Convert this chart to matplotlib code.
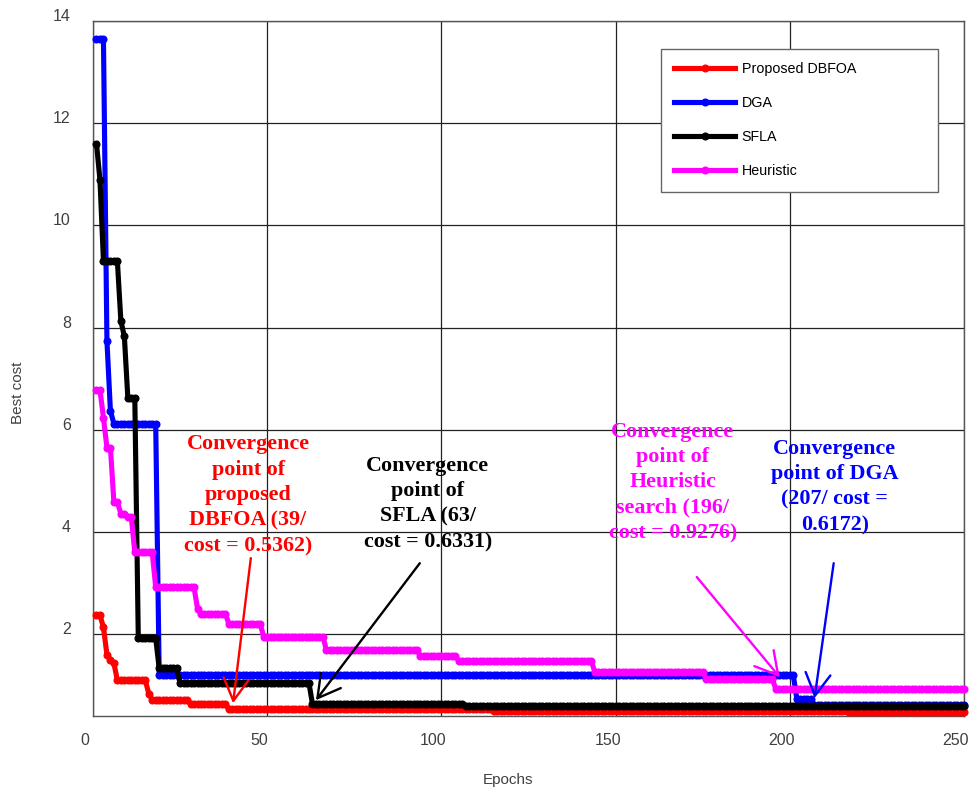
import numpy as np
import matplotlib
matplotlib.use("Agg")
import matplotlib.pyplot as plt
from matplotlib.lines import Line2D
from matplotlib.transforms import ScaledTranslation

# best cost per epoch, kept as step levels: epoch where a level starts + its value
n_epochs = 250

dbfoa_start = [1, 3, 4, 5, 6, 7, 16, 17, 28, 39, 115, 217]
dbfoa_cost = [2.37, 2.14, 1.6, 1.5, 1.43, 1.1, 0.84, 0.72, 0.64, 0.5362, 0.50, 0.47]

dga_start = [1, 4, 5, 6, 19, 202, 207]
dga_cost = [13.64, 7.74, 6.37, 6.12, 1.2, 0.74, 0.6172]

sfla_start = [1, 2, 3, 8, 9, 10, 13, 19, 25, 63, 107]
sfla_cost = [11.6, 10.89, 9.3, 8.13, 7.83, 6.62, 1.92, 1.33, 1.04, 0.6331, 0.60]

heur_start = [1, 3, 4, 6, 8, 10, 12, 18, 30, 31, 39, 49, 67, 94, 105, 144, 176, 196]
heur_cost = [6.78, 6.24, 5.65, 4.58, 4.36, 4.29, 3.6, 2.92, 2.5, 2.4, 2.2, 1.95,
             1.69, 1.57, 1.48, 1.27, 1.12, 0.9276]

names = ["Proposed DBFOA", "DGA", "SFLA", "Heuristic"]
colors = ["#ff0000", "#0000ff", "#000000", "#ff00ff"]


def expand(starts, vals):
    counts = np.diff(starts + [n_epochs + 1])
    return np.repeat(vals, counts)


epochs = np.arange(1, n_epochs + 1)
series = [expand(dbfoa_start, dbfoa_cost), expand(dga_start, dga_cost),
          expand(sfla_start, sfla_cost), expand(heur_start, heur_cost)]

fig = plt.figure(figsize=(9.73, 7.94), dpi=100)
ax = fig.add_axes([93 / 973, 1 - 716 / 794, 871 / 973, 695 / 794])

for y, c in zip(series, colors):
    ax.plot(epochs, y, color=c, lw=3.7, marker="o", ms=4.8, mec=c, mfc=c,
            solid_joinstyle="round", clip_on=False, zorder=3)

ax.set_xlim(0, 250)
ax.set_ylim(0.4, 14)
ax.set_xticks([0, 50, 100, 150, 200, 250])
ax.set_yticks([2, 4, 6, 8, 10, 12, 14])
ax.grid(True, color="#222222", lw=0.9)
ax.set_axisbelow(True)
for s in ax.spines.values():
    s.set_color("#555555")
    s.set_linewidth(1.0)
ax.tick_params(length=0, labelsize=11.5, labelcolor="#404040")
ax.tick_params(axis="y", pad=16)
ax.tick_params(axis="x", pad=12)
for lbl in ax.get_yticklabels():
    lbl.set_fontfamily("Liberation Sans")
    lbl.set_transform(lbl.get_transform() + ScaledTranslation(0, 0.06, fig.dpi_scale_trans))
for lbl in ax.get_xticklabels():
    lbl.set_fontfamily("Liberation Sans")
    lbl.set_transform(lbl.get_transform() + ScaledTranslation(-0.08, 0, fig.dpi_scale_trans))

fig.text(18 / 973, 1 - 393 / 794, "Best cost", rotation=90, ha="center", va="center",
         fontsize=11, color="#404040", family="Liberation Sans")
fig.text(508 / 973, 1 - 780 / 794, "Epochs", ha="center", va="center",
         fontsize=11, color="#404040", family="Liberation Sans")

handles = [Line2D([0], [0], color=c, lw=3.7, marker="o", ms=4.8) for c in colors]
leg = ax.legend(handles, names, loc="upper left", bbox_to_anchor=(0.652, 0.96, 0.318, 0.0),
                mode="expand", numpoints=1, handlelength=4.2, handletextpad=0.5,
                labelspacing=1.4, borderpad=0.95, borderaxespad=0, fancybox=False,
                framealpha=1, prop={"family": "Liberation Sans", "size": 10.3})
leg.get_frame().set_edgecolor("#666666")
leg.get_frame().set_linewidth(1.0)

# convergence notes: text, text centre, arrow start, arrow tip
notes = [
    ("Convergence\npoint of\nproposed\nDBFOA (39/\ncost = 0.5362)", (44.5, 4.72), (45.3, 3.49), (40.2, 0.65)),
    ("Convergence\npoint of\nSFLA (63/\ncost = 0.6331)", (96.1, 4.55), (93.8, 3.39), (64.0, 0.71)),
    ("Convergence\npoint of\nHeuristic\nsearch (196/\ncost = 0.9276)", (166.4, 4.97), (173.3, 3.12), (197.1, 1.16)),
    ("Convergence\npoint of DGA\n(207/ cost =\n0.6172)", (212.9, 4.88), (212.6, 3.39), (207.1, 0.75)),
]
note_colors = [colors[0], colors[2], colors[3], colors[1]]
for (txt, pos, start, tip), c in zip(notes, note_colors):
    ax.text(pos[0], pos[1], txt, ha="center", va="center", multialignment="center",
            color=c, fontsize=15.8, fontweight="bold", family="Liberation Serif",
            linespacing=1.36, zorder=5)
    ax.annotate("", xy=tip, xytext=start,
                arrowprops=dict(arrowstyle="->,head_length=0.8,head_width=0.45",
                                color=c, lw=1.7, mutation_scale=20,
                                shrinkA=0, shrinkB=0), zorder=6)

fig.savefig("out.png", dpi=100, facecolor="white")
